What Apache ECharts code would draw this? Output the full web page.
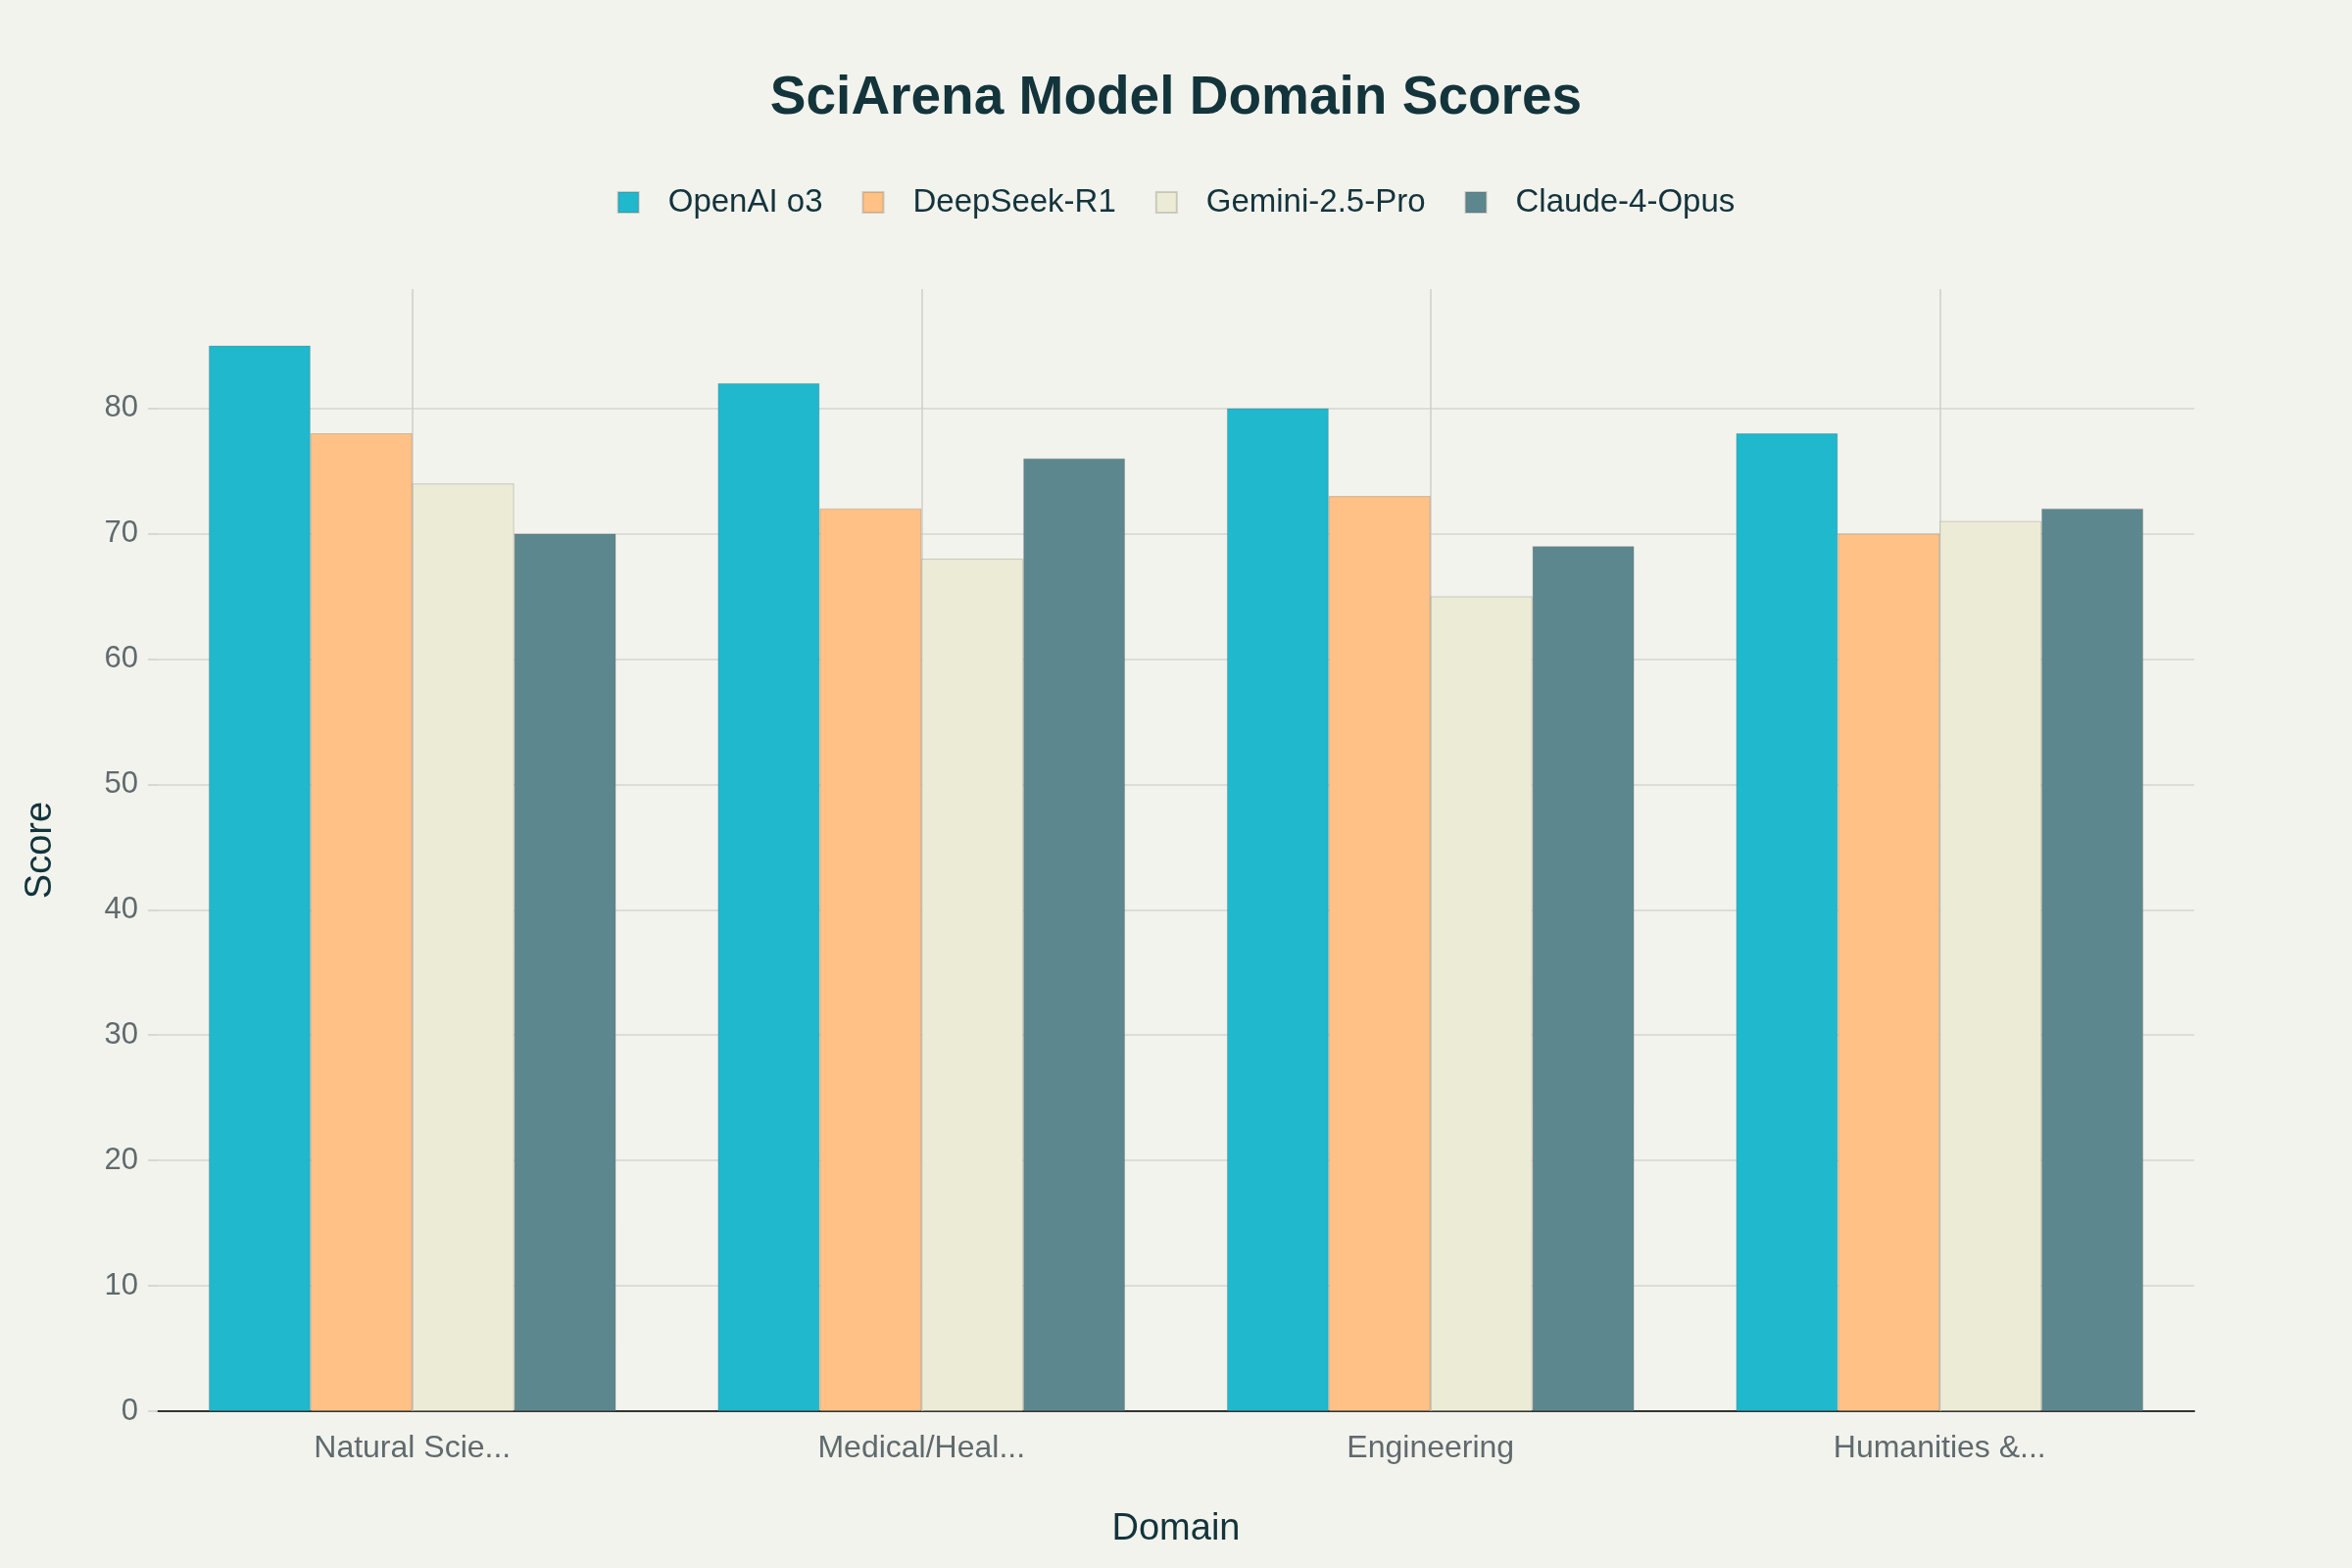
<!DOCTYPE html>
<html>
<head>
<meta charset="utf-8">
<script src="https://cdn.jsdelivr.net/npm/echarts@6/dist/echarts.min.js"></script>
<style>
  html, body { margin: 0; padding: 0; background: #F3F3EE; }
  #main { width: 2400px; height: 1600px; }
</style>
</head>
<body>
<div id="main"></div>
<script>
// categories (as shown on the axis)
var domains = ['Natural Scie...', 'Medical/Heal...', 'Engineering', 'Humanities &...'];
var models = ['OpenAI o3', 'DeepSeek-R1', 'Gemini-2.5-Pro', 'Claude-4-Opus'];
// scores per model
var openaiScores = [85, 82, 80, 78];
var deepseekScores = [78, 72, 73, 70];
var geminiScores = [74, 68, 65, 71];
var claudeScores = [70, 76, 69, 72];
var colors = ['#1FB8CD', '#FFC185', '#ECEBD5', '#5D878F'];

var FONT = 'Liberation Sans, Arial, sans-serif';
var chart = echarts.init(document.getElementById('main'));

function makeSeries(name, data, color) {
    return {
        name: name,
        type: 'bar',
        data: data,
        barGap: '0%',
        barCategoryGap: '20%',
        itemStyle: {
            color: color,
            borderColor: 'rgba(90,90,80,0.25)',
            borderWidth: 1
        }
    };
}

var series = [
    makeSeries(models[0], openaiScores, colors[0]),
    makeSeries(models[1], deepseekScores, colors[1]),
    makeSeries(models[2], geminiScores, colors[2]),
    makeSeries(models[3], claudeScores, colors[3])
];
// vertical grid lines at category centres (empty helper series)
series.push({
    name: 'vgrid',
    type: 'line',
    data: [],
    silent: true,
    markLine: {
        silent: true,
        symbol: 'none',
        z: 1,
        label: { show: false },
        lineStyle: { color: '#cfcfca', width: 1.5, type: 'solid' },
        data: domains.map(function (d) { return { xAxis: d }; })
    }
});

var option = {
    backgroundColor: '#F3F3EE',
    animation: false,
    title: {
        text: 'SciArena Model Domain Scores',
        left: 'center',
        top: 68,
        textStyle: { fontFamily: FONT, fontSize: 55, fontWeight: 'bold', color: '#13343B' }
    },
    legend: {
        data: models,
        top: 185,
        left: 'center',
        itemWidth: 71,
        itemHeight: 21,
        itemGap: 40,
        icon: 'path://M0,0H10V10H0Z',
        textStyle: { fontFamily: FONT, fontSize: 33, color: '#13343B' }
    },
    grid: { left: 161, right: 161, top: 295, bottom: 160 },
    xAxis: {
        type: 'category',
        data: domains,
        name: 'Domain',
        nameLocation: 'middle',
        nameGap: 102,
        nameTextStyle: { fontFamily: FONT, fontSize: 38, color: '#13343B' },
        axisLine: { lineStyle: { color: '#333333', width: 2 } },
        axisTick: { alignWithLabel: true, length: 12, lineStyle: { color: '#cfcfca', width: 1.5 } },
        axisLabel: { fontFamily: FONT, fontSize: 32, color: '#5F6A6D', margin: 22 },
        splitLine: { show: false }
    },
    yAxis: {
        type: 'value',
        min: 0,
        max: 89.5,
        interval: 10,
        name: 'Score',
        nameLocation: 'middle',
        nameGap: 100,
        nameTextStyle: { fontFamily: FONT, fontSize: 38, color: '#13343B' },
        axisLine: { show: false },
        axisTick: { show: true, length: 10, lineStyle: { color: '#cfcfca', width: 1.5 } },
        axisLabel: {
            fontFamily: FONT, fontSize: 31, color: '#5F6A6D', margin: 20,
            showMaxLabel: false
        },
        splitLine: { show: true, showMaxLine: false, lineStyle: { color: '#d6d6d1', width: 1.5 } }
    },
    series: series
};
chart.setOption(option);
</script>
</body>
</html>
